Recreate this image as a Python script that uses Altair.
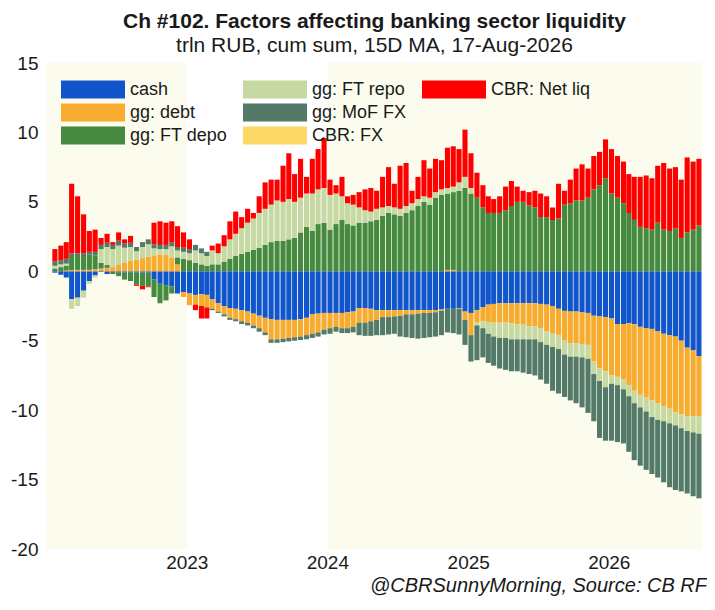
"""Ch #102: factors affecting banking sector liquidity (stacked cumulative bars)."""

import altair as alt
import pandas as pd

FONT = "Liberation Sans, Arial, sans-serif"
INK = "#1a1a1a"
SHADE = "#fcfcee"

TITLE = "Ch #102. Factors affecting banking sector liquidity"
SUBTITLE = "trln RUB, cum sum, 15D MA, 17-Aug-2026"
CREDIT = "@CBRSunnyMorning, Source: CB RF"

PLOT_W = 665
PLOT_H = 486

# half-monthly observations (1st and 15th), 15-Jan-2022 .. 15-Aug-2026
DATES = pd.date_range("2022-01-15", "2026-08-15", freq="SMS")

# one list per factor, trln RUB; rows are 2022 / 2023 / 2024 / 2025 / 2026
CASH = [
    -0.1, -0.25, -0.45, -2.0, -1.9, -1.4, -0.7, -0.3, -0.05, -0.2, -0.05, -0.1, -0.1, -0.1, -0.1, -0.1, -0.1, -0.6, -0.9, -1.0, -1.1, -1.6, -1.5,
    -1.6, -1.7, -1.65, -1.7, -2.0, -2.3, -2.5, -2.65, -2.7, -2.8, -2.9, -3.05, -3.2, -3.35, -3.45, -3.5, -3.5, -3.5, -3.5, -3.45, -3.35, -3.1, -3.05, -3.0,
    -3.0, -3.0, -3.0, -2.95, -2.9, -2.65, -2.65, -2.7, -2.8, -2.8, -2.8, -2.8, -2.8, -2.8, -2.8, -2.8, -2.8, -2.8, -2.8, -2.75, -2.7, -2.7, -2.65, -2.9,
    -3.0, -2.8, -2.6, -2.4, -2.35, -2.3, -2.3, -2.3, -2.3, -2.3, -2.3, -2.3, -2.35, -2.4, -2.5, -2.7, -2.85, -2.9, -2.9, -2.95, -3.0, -3.2, -3.25, -3.3,
    -3.4, -3.8, -3.8, -3.75, -3.8, -4.0, -4.1, -4.15, -4.3, -4.5, -4.6, -4.7, -5.0, -5.5, -5.7, -6.1,
]
GG_DEBT = [
    0.0, 0.0, 0.05, 0.1, 0.1, 0.1, 0.1, 0.15, 0.2, 0.25, 0.3, 0.45, 0.6, 0.75, 0.85, 0.95, 1.05, 1.15, 1.2, 1.2, 1.0, 0.5, -0.35,
    -0.85, -0.7, -0.85, -0.9, -0.7, -0.6, -0.6, -0.7, -0.75, -0.8, -0.8, -0.85, -0.9, -1.05, -1.45, -1.4, -1.35, -1.3, -1.25, -1.25, -1.25, -1.4, -1.35, -1.2,
    -1.1, -1.0, -1.1, -1.15, -1.1, -1.05, -1.05, -0.9, -0.7, -0.5, -0.5, -0.45, -0.4, -0.3, -0.3, -0.25, -0.2, -0.2, -0.15, -0.1, 0.1, 0.1, -0.05, -0.6,
    -1.6, -0.9, -1.0, -1.25, -1.35, -1.4, -1.4, -1.45, -1.5, -1.55, -1.65, -1.65, -1.75, -1.9, -2.0, -1.9, -2.15, -2.3, -2.3, -2.3, -2.3, -3.3, -3.75, -3.9,
    -4.1, -3.8, -4.0, -4.45, -4.8, -4.9, -5.0, -5.15, -5.2, -5.2, -5.3, -5.45, -5.3, -4.95, -4.75, -4.35,
]
GG_FT_DEPO = [
    0.2, 0.3, 0.35, 1.0, 1.0, 1.0, 1.1, 1.0, 0.4, 0.2, -0.15, -0.25, -0.5, -0.6, -0.85, -0.95, -1.0, -1.25, -1.4, -1.1, -0.5, 0.5, 0.9,
    0.8, 0.6, 0.5, 0.4, 0.5, 0.5, 0.7, 0.9, 1.1, 1.25, 1.4, 1.55, 1.7, 1.9, 2.1, 2.2, 2.2, 2.3, 2.4, 2.8, 3.2, 2.9, 3.4, 3.5,
    3.0, 3.4, 3.7, 3.4, 3.3, 3.5, 3.5, 3.6, 3.7, 4.0, 4.2, 4.1, 4.0, 4.2, 4.4, 4.7, 5.0, 4.8, 5.3, 5.5, 5.5, 5.6, 5.8, 6.0,
    5.6, 5.3, 4.6, 4.2, 4.2, 4.2, 4.4, 4.7, 5.0, 5.0, 4.75, 4.6, 3.9, 3.9, 3.7, 3.8, 4.8, 4.9, 5.1, 5.1, 5.3, 5.9, 6.2, 6.7,
    5.6, 5.3, 4.9, 4.2, 3.7, 3.2, 3.1, 3.0, 3.5, 3.0, 2.9, 3.1, 2.4, 2.8, 3.0, 3.3,
]
GG_FT_REPO = [
    0.2, 0.2, 0.15, -0.7, -0.6, -0.5, -0.2, -0.15, 1.0, 1.3, 1.3, 1.4, 1.1, 1.0, 0.6, 0.8, 0.9, 0.5, 0.4, 0.4, 0.8, 0.5, 0.5,
    0.5, 0.9, 0.8, 0.7, 1.0, 0.8, 1.1, 1.4, 1.6, 1.85, 2.1, 2.25, 2.5, 2.6, 2.7, 2.9, 2.8, 2.9, 2.6, 2.5, 2.4, 2.7, 2.5, 2.5,
    2.5, 2.2, 1.7, 1.5, 1.5, 1.1, 0.9, 0.7, 0.8, 0.6, 0.5, 0.5, 0.5, 0.5, 0.5, 0.5, 0.4, 0.5, 0.4, 0.4, 0.4, 0.4, 0.6, 0.8,
    0.4, -0.2, -0.5, -0.85, -1.0, -1.1, -1.1, -1.15, -1.1, -1.05, -0.95, -0.95, -1.0, -1.0, -0.95, -1.0, -1.0, -0.95, -0.95, -0.95, -1.0, -0.9, -0.9, -1.15,
    -0.6, -0.6, -0.7, -0.8, -0.9, -0.9, -1.0, -1.2, -1.2, -1.1, -1.05, -0.95, -1.0, -1.05, -1.15, -1.25,
]
GG_MOF_FX = [
    0.3, 0.3, 0.35, 0.2, 0.2, 0.2, 0.2, 0.25, 0.3, 0.3, 0.3, 0.35, 0.3, 0.3, 0.3, 0.35, 0.35, 0.3, 0.3, 0.3, 0.3, 0.25, 0.3,
    0.3, 0.4, 0.35, 0.3, -0.1, -0.1, -0.15, -0.15, -0.15, -0.2, -0.2, -0.2, -0.25, -0.2, -0.25, -0.25, -0.25, -0.25, -0.25, -0.25, -0.3, -0.3, -0.3, -0.35,
    -0.4, -0.35, -0.35, -0.35, -0.4, -0.9, -0.95, -1.05, -1.1, -1.3, -1.25, -1.25, -1.5, -1.65, -1.7, -1.8, -1.8, -1.75, -1.75, -1.75, -1.7, -1.75, -1.85, -1.8,
    -1.9, -2.5, -2.1, -2.1, -2.1, -2.2, -2.3, -2.3, -2.3, -2.4, -2.5, -2.6, -2.7, -2.8, -3.15, -3.2, -3.05, -3.15, -3.35, -3.6, -3.9, -3.4, -4.1, -3.85,
    -4.1, -4.1, -3.9, -4.0, -4.1, -4.2, -4.2, -4.1, -4.15, -4.4, -4.6, -4.65, -4.55, -4.5, -4.6, -4.65,
]
CBR_FX = [0.0] * 111
CBR_NET_LIQ = [
    0.9, 1.05, 1.2, 5.0, 4.1, 2.8, 1.5, 1.6, 0.5, 0.65, 0.2, 0.6, 0.3, 0.5, -0.1, -0.25, -0.05, 1.55, 1.7, 1.6, 1.5, 1.5, 1.1,
    0.7, -0.4, -0.9, -0.8, 0.35, 0.7, 0.8, 1.3, 1.6, 0.8, 1.0, 0.4, 1.2, 1.9, 1.8, 1.5, 2.6, 3.3, 2.0, 2.8, 1.2, 2.5, 2.9, 3.6,
    1.1, 0.6, 1.4, 0.5, 0.7, 1.1, 1.5, 1.7, 1.3, 2.2, 2.8, 1.7, 3.1, 3.1, 0.9, 1.6, 2.6, 2.1, 2.4, 2.1, 2.9, 2.9, 2.4, 3.4,
    2.5, 1.8, 1.6, 1.2, 1.0, 1.2, 1.7, 1.8, 1.1, 0.8, 0.95, 1.2, 1.7, 1.5, 0.9, 2.5, 1.0, 1.7, 2.3, 2.6, 2.1, 2.4, 2.4, 2.8,
    3.2, 3.0, 3.0, 2.8, 3.1, 3.6, 3.8, 3.7, 4.1, 4.8, 4.5, 4.4, 4.2, 5.4, 4.9, 4.8,
]

# stacking order, nearest the zero line first (the legend reads down its columns in this order)
SERIES = ["cash", "gg: debt", "gg: FT depo", "gg: FT repo", "gg: MoF FX", "CBR: FX", "CBR: Net liq"]
VALUES = [CASH, GG_DEBT, GG_FT_DEPO, GG_FT_REPO, GG_MOF_FX, CBR_FX, CBR_NET_LIQ]
COLORS = ["#1155cc", "#f7ac30", "#458a3e", "#c6d9a2", "#537969", "#fdd866", "#ff0000"]
# an empty, invisible slot keeps "CBR: Net liq" alone in the third legend column
BLANK = " "

YEAR_SHADING = [("2022-01-01", "2023-01-01"), ("2024-01-01", "2026-09-01")]


def _bars_frame() -> pd.DataFrame:
    ends = list(DATES[1:]) + [DATES[-1] + pd.Timedelta(days=16)]
    rows = []
    for k, (name, vals) in enumerate(zip(SERIES, VALUES)):
        assert len(vals) == len(DATES), name
        for d, nxt, v in zip(DATES, ends, vals):
            # bar sits in the middle of its half-month window
            rows.append({"mid": d + (nxt - d) / 2, "series": name, "k": k, "value": v})
    return pd.DataFrame(rows)


def _x(field: str):
    return alt.X(
        f"{field}:T",
        title=None,
        scale=alt.Scale(domain=[alt.DateTime(year=2022, month=1, date=3), alt.DateTime(year=2026, month=8, date=31)]),
        axis=alt.Axis(
            values=[alt.DateTime(year=y, month=1, date=1) for y in range(2023, 2027)],
            format="%Y",
            labelFontSize=19,
            labelPadding=4,
            domain=False,
            ticks=False,
            grid=False,
        ),
    )


shade = (
    alt.Chart(pd.DataFrame(YEAR_SHADING, columns=["start", "end"]))
    .mark_rect(color=SHADE)
    .encode(x=_x("start"), x2="end:T", y=alt.value(0), y2=alt.value(PLOT_H))
)

bars = (
    alt.Chart(_bars_frame())
    .mark_bar(width=5.1)
    .encode(
        x=_x("mid"),
        y=alt.Y(
            "value:Q",
            stack="zero",
            title=None,
            scale=alt.Scale(domain=[-20, 15], nice=False, zero=False),
            axis=alt.Axis(
                values=list(range(-20, 16, 5)),
                labelExpr="'' + datum.value",
                labelFontSize=19,
                labelPadding=4,
                domain=False,
                ticks=False,
                grid=False,
            ),
        ),
        color=alt.Color(
            "series:N",
            scale=alt.Scale(domain=SERIES + [BLANK], range=COLORS + ["transparent"]),
            legend=alt.Legend(
                title=None,
                orient="none",
                legendX=19,
                legendY=17,
                columns=3,
                columnPadding=15,
                rowPadding=4,
                clipHeight=19,
                gridAlign="each",
                symbolType="M-1,-0.28L1,-0.28L1,0.28L-1,0.28Z",
                symbolSize=4096,
                symbolStrokeWidth=0,
                symbolOpacity=1,
                labelFontSize=18,
                labelOffset=5,
                labelColor=INK,
                labelFont=FONT,
            ),
        ),
        order=alt.Order("k:Q"),
    )
)

credit = (
    alt.Chart(pd.DataFrame({"text": [CREDIT]}))
    .mark_text(align="right", baseline="alphabetic", fontStyle="italic", fontSize=20, font=FONT, color=INK)
    .encode(x=alt.value(PLOT_W), y=alt.value(PLOT_H + 43), text="text:N")
)

chart = (
    alt.layer(shade, bars, credit)
    .properties(
        width=PLOT_W,
        height=PLOT_H,
        autosize=alt.AutoSizeParams(type="none"),
        padding={"left": 34, "top": 55, "right": 0, "bottom": 47},
        title=alt.Title(TITLE, subtitle=SUBTITLE, dy=6),
    )
    .configure(font=FONT, background="white")
    .configure_axis(labelColor=INK, labelFont=FONT)
    .configure_title(
        anchor="middle",
        fontSize=21,
        fontWeight="bold",
        color=INK,
        subtitleFontSize=21,
        subtitleColor=INK,
        subtitlePadding=3,
        offset=4,
    )
    .configure_view(stroke=None)
)

chart.save("out.html", embed_options={"renderer": "svg", "actions": False})
